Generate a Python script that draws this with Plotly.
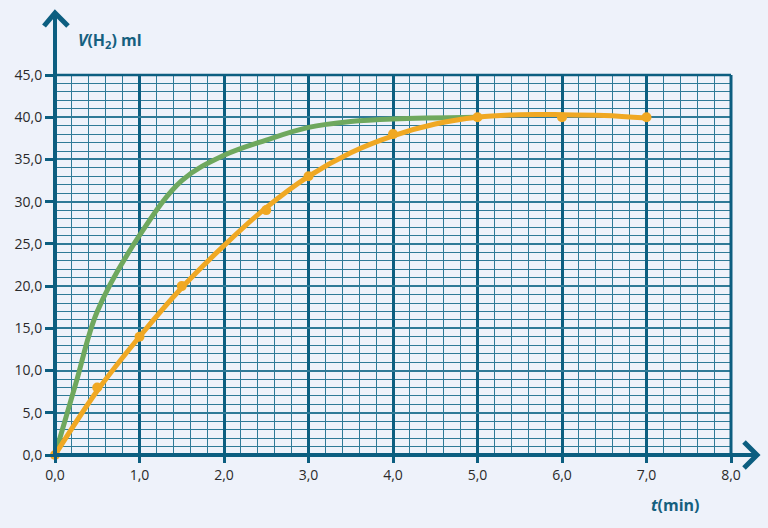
import plotly.graph_objects as go

# ---- data ----
green_t = [0, 0.25, 0.5, 1.0, 1.5, 2.0, 2.5, 3.0, 3.5, 4.0, 5.0]
green_v = [0, 8.6, 17.0, 26.0, 32.5, 35.5, 37.3, 38.8, 39.5, 39.8, 40.0]

orange_curve_t = [0, 0.5, 1.0, 1.5, 2.0, 2.5, 3.0, 3.5, 4.0, 4.5, 5.0, 5.5, 6.0, 6.5, 7.0]
orange_curve_v = [0, 7.6, 14.0, 19.8, 24.8, 29.3, 33.0, 35.8, 37.8, 39.2, 40.0, 40.3, 40.3, 40.2, 39.9]

orange_pts_t = [0, 0.5, 1.0, 1.5, 2.5, 3.0, 4.0, 5.0, 6.0, 7.0]
orange_pts_v = [0, 8.0, 14.0, 20.0, 29.0, 33.0, 38.0, 40.0, 40.0, 40.0]

x_ticks = [0, 1, 2, 3, 4, 5, 6, 7, 8]
x_labels = ["0,0", "1,0", "2,0", "3,0", "4,0", "5,0", "6,0", "7,0", "8,0"]
y_ticks = [0, 5, 10, 15, 20, 25, 30, 35, 40, 45]
y_labels = ["0,0", "5,0", "10,0", "15,0", "20,0", "25,0", "30,0", "35,0", "40,0", "45,0"]

BG = "#EEF2FA"
AX = "#0C5E80"
GRID = "#2F7A97"
GREEN = "#6FA85E"
ORANGE = "#F0A823"
FONT = "Open Sans"

fig = go.Figure()
fig.add_trace(go.Scatter(x=green_t, y=green_v, mode="lines",
                         line=dict(color=GREEN, width=5, shape="spline", smoothing=1.0),
                         cliponaxis=False, hoverinfo="skip"))
fig.add_trace(go.Scatter(x=orange_curve_t, y=orange_curve_v, mode="lines",
                         line=dict(color=ORANGE, width=5, shape="spline", smoothing=1.0),
                         cliponaxis=False, hoverinfo="skip"))
fig.add_trace(go.Scatter(x=orange_pts_t, y=orange_pts_v, mode="markers",
                         marker=dict(color=ORANGE, size=10),
                         cliponaxis=False, hoverinfo="skip"))

fig.update_layout(
    width=768, height=528,
    margin=dict(l=55, r=37, t=75, b=73, autoexpand=False),
    paper_bgcolor=BG, plot_bgcolor=BG,
    showlegend=False,
    font=dict(family=FONT, size=14, color="#2a2a2a"),
)
fig.update_xaxes(
    range=[0, 8], tickmode="array", tickvals=x_ticks, ticktext=x_labels,
    showgrid=True, gridcolor=AX, gridwidth=3,
    minor=dict(dtick=0.2, tick0=0, showgrid=True, gridcolor=GRID, gridwidth=1.3),
    ticks="outside", ticklen=7, tickwidth=3, tickcolor=AX,
    zeroline=False, showline=False, fixedrange=True,
)
fig.update_yaxes(
    range=[0, 45], tickmode="array", tickvals=y_ticks, ticktext=y_labels,
    showgrid=True, gridcolor=GRID, gridwidth=2.2,
    minor=dict(dtick=1, tick0=0, showgrid=True, gridcolor=GRID, gridwidth=1.3),
    ticks="outside", ticklen=9, tickwidth=3, tickcolor=AX,
    zeroline=False, showline=False, fixedrange=True,
)

def px2paper(px, py):
    return (px - 55) / 676.0, (455 - py) / 380.0

x0, y0 = px2paper(55, 455)
ytopx, ytopy = px2paper(56, 13)
xend, _ = px2paper(757, 455)

fig.add_shape(type="line", xref="paper", yref="paper", x0=x0, y0=y0, x1=x0, y1=ytopy,
              line=dict(color=AX, width=4))
fig.add_shape(type="line", xref="paper", yref="paper", x0=x0 - 0.002, y0=y0, x1=xend, y1=y0,
              line=dict(color=AX, width=4))
a1x, a1y = px2paper(44, 26)
a2x, a2y = px2paper(68, 26)
fig.add_shape(type="path", xref="paper", yref="paper",
              path=f"M {a1x},{a1y} L {x0},{ytopy} L {a2x},{a2y}",
              line=dict(color=AX, width=5))
b1x, b1y = px2paper(744, 442)
b2x, b2y = px2paper(744, 468)
fig.add_shape(type="path", xref="paper", yref="paper",
              path=f"M {b1x},{b1y} L {xend},{y0} L {b2x},{b2y}",
              line=dict(color=AX, width=5))
fig.add_shape(type="line", xref="paper", yref="paper", x0=1, y0=0, x1=1, y1=1,
              line=dict(color=AX, width=3))
fig.add_shape(type="line", xref="paper", yref="paper", x0=0, y0=1, x1=1, y1=1,
              line=dict(color=AX, width=2.5))

tx, ty = px2paper(110, 41)
fig.add_annotation(xref="paper", yref="paper", x=tx, y=ty, showarrow=False,
                   xanchor="center", yanchor="middle",
                   text="<b><i>V</i>(H<sub>2</sub>) ml</b>",
                   font=dict(family=FONT, size=16, color="#15607F"))
sx, sy = px2paper(675, 505)
fig.add_annotation(xref="paper", yref="paper", x=sx, y=sy, showarrow=False,
                   xanchor="center", yanchor="middle",
                   text="<b><i>t</i>(min)</b>",
                   font=dict(family=FONT, size=16, color="#15607F"))

fig.write_html("out.html", config={"displayModeBar": False},
               post_script="document.body.style.margin='0';document.body.style.background='#EEF2FA';")
